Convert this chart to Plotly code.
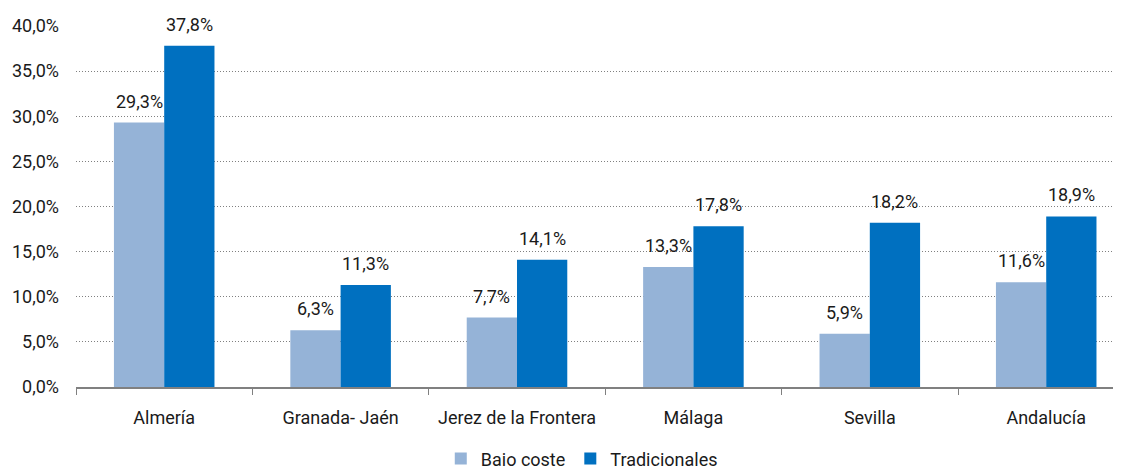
import plotly.graph_objects as go

categories = ["Almería", "Granada- Jaén", "Jerez de la Frontera", "Málaga", "Sevilla", "Andalucía"]
bajo_coste = [29.3, 6.3, 7.7, 13.3, 5.9, 11.6]
tradicionales = [37.8, 11.3, 14.1, 17.8, 18.2, 18.9]
series_names = ["Baio coste", "Tradicionales"]
y_ticks = [0, 5, 10, 15, 20, 25, 30, 35, 40]

def fmt(v):
    return f"{v:.1f}%".replace(".", ",")

font_family = "Roboto, Arial, sans-serif"
txt = "#1a1a1a"

W, H = 1113, 473
L, R, T, B = 68, 0, 18, 94
BARGAP = 0.43
X_RANGE = [-0.5, 5.424]   # right edge of the last category runs off the chart, as in the source

fig = go.Figure()
fig.add_trace(go.Bar(
    x=categories, y=bajo_coste, name=series_names[0],
    marker=dict(color="#95B3D7", line=dict(width=0)),
))
fig.add_trace(go.Bar(
    x=categories, y=tradicionales, name=series_names[1],
    marker=dict(color="#0070C0", line=dict(width=0)),
))

# value labels placed above each bar
cat_px = (W - L - R) / (X_RANGE[1] - X_RANGE[0])
bar_px = cat_px * (1 - BARGAP) / 2
for series, sign in ((bajo_coste, -1), (tradicionales, 1)):
    for c, v in zip(categories, series):
        fig.add_annotation(
            x=c, y=v, xref="x", yref="y", text=fmt(v), showarrow=False,
            xanchor="center", yanchor="bottom", xshift=sign * bar_px / 2, yshift=9,
            font=dict(size=18, color=txt),
        )

fig.update_layout(
    width=W, height=H,
    margin=dict(l=L, r=R, t=T, b=B, autoexpand=False),
    paper_bgcolor="white", plot_bgcolor="white",
    barmode="group", bargap=BARGAP, bargroupgap=0,
    font=dict(family=font_family, size=18, color=txt),
    showlegend=True,
    legend=dict(orientation="h", x=0.484, xanchor="center",
                yref="container", y=0.047, yanchor="middle",
                font=dict(size=18), itemsizing="constant", itemwidth=30),
)
fig.update_xaxes(
    range=X_RANGE,
    showline=True, linecolor="#808080", linewidth=2,
    ticks="outside", tickson="boundaries", ticklen=6, tickcolor="#808080", tickwidth=1,
    showgrid=False, tickfont=dict(size=18), ticklabelstandoff=13, automargin=False,
)
fig.update_yaxes(
    range=[0, 40], tickvals=y_ticks, ticktext=[fmt(v) for v in y_ticks],
    showgrid=True, gridcolor="#808080", griddash="1px,2px", gridwidth=1,
    zeroline=False, showline=False, ticks="", tickfont=dict(size=18),
    ticklabelstandoff=16, automargin=False,
)

fig.write_html("out.html")
